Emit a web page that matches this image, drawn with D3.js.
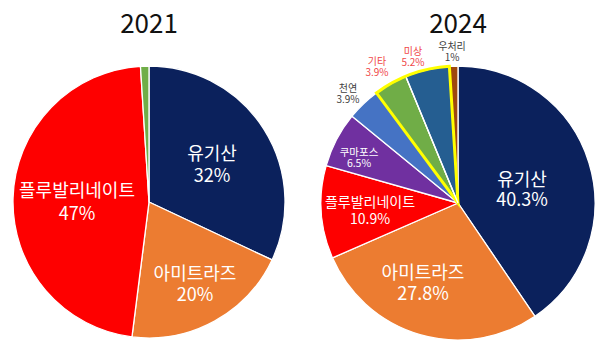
<!DOCTYPE html>
<html>
<head>
<meta charset="utf-8">
<script src="https://cdn.jsdelivr.net/npm/d3@7"></script>
<style>
  html, body { margin: 0; padding: 0; background: #fff; }
  svg { display: block; }
  text { font-family: "Noto Sans CJK KR", "Noto Sans", sans-serif; }
</style>
</head>
<body>
<svg id="chart" width="601" height="349"></svg>
<script>
// Pesticide share by category, 2021 vs 2024
const years = ["2021", "2024"];

const categories2021 = ["유기산", "아미트라즈", "플루발리네이트", "기타"];
const values2021 = [32, 20, 47, 1];
const labelled2021 = [true, true, true, false];

const categories2024 = ["유기산", "아미트라즈", "플루발리네이트", "쿠마포스", "천연", "기타", "미상", "우처리"];
const values2024 = [40.3, 27.8, 10.9, 6.5, 3.9, 3.9, 5.2, 1];
const labelled2024 = [true, true, true, true, true, true, true, true];

// categories outlined in yellow (2024)
const highlighted2024 = ["기타", "미상"];

const colors = {
  "유기산": "#0b215c",
  "아미트라즈": "#ec7c31",
  "플루발리네이트": "#fe0000",
  "쿠마포스": "#7030a0",
  "천연": "#4573c4",
  "기타": "#70ad47",
  "미상": "#255e91",
  "우처리": "#9e480e"
};

const svg = d3.select("#chart");

// label placement relative to each pie's centre: [dx, dy(first baseline), line gap, font size, fill]
const labelLayout2021 = {
  "유기산": [63, -42, 22, 18, "#fff"],
  "아미트라즈": [46, 78, 21, 18, "#fff"],
  "플루발리네이트": [-72, -5, 23, 18, "#fff"]
};
const labelLayout2024 = {
  "유기산": [64, -17, 20, 18, "#fff"],
  "아미트라즈": [-35, 76, 21, 18, "#fff"],
  "플루발리네이트": [-88, 4, 17, 14, "#fff"],
  "쿠마포스": [-99, -47, 11, 10.5, "#fff"],
  "천연": [-110, -111, 11, 10, "#404040"],
  "기타": [-81, -138, 11, 10, "#f04848"],
  "미상": [-45, -148, 11, 10, "#f04848"],
  "우처리": [-6, -153, 11, 10, "#404040"]
};

function drawPie(cfg) {
  const g = svg.append("g").attr("transform", `translate(${cfg.cx},${cfg.cy})`);
  const pie = d3.pie().sort(null).value(d => d.value);
  const arcs = pie(cfg.categories.map((c, i) => ({ name: c, value: cfg.values[i], show: cfg.labelled[i] })));
  const arc = d3.arc().innerRadius(0).outerRadius(cfg.r);

  g.selectAll("path.slice")
    .data(arcs)
    .join("path")
    .attr("class", "slice")
    .attr("d", arc)
    .attr("fill", d => colors[d.data.name])
    .attr("stroke", "#fff")
    .attr("stroke-width", 1.3)
    .attr("stroke-linejoin", "round");

  // yellow outline around the highlighted wedge group
  if (cfg.highlight && cfg.highlight.length) {
    const hs = arcs.filter(d => cfg.highlight.includes(d.data.name));
    const start = d3.min(hs, d => d.startAngle);
    const end = d3.max(hs, d => d.endAngle);
    g.append("path")
      .attr("d", d3.arc()({ innerRadius: 0, outerRadius: cfg.r, startAngle: start, endAngle: end }))
      .attr("fill", "none")
      .attr("stroke", "#ffff00")
      .attr("stroke-width", 3)
      .attr("stroke-linejoin", "miter");
    // white separator between the highlighted slices
    hs.slice(1).forEach(d => {
      const a = d.startAngle;
      g.append("line")
        .attr("x1", 0).attr("y1", 0)
        .attr("x2", Math.sin(a) * (cfg.r - 1.5))
        .attr("y2", -Math.cos(a) * (cfg.r - 1.5))
        .attr("stroke", "#fff")
        .attr("stroke-width", 1.3);
    });
  }

  const labels = g.selectAll("g.lbl")
    .data(arcs.filter(d => d.data.show))
    .join("g")
    .attr("class", "lbl");

  labels.each(function (d) {
    const L = cfg.layout[d.data.name];
    const t = d3.select(this).append("text")
      .attr("text-anchor", "middle")
      .attr("fill", L[4])
      .attr("font-size", L[3]);
    t.append("tspan").attr("x", L[0]).attr("y", L[1]).text(d.data.name);
    t.append("tspan").attr("x", L[0]).attr("y", L[1] + L[2]).text(`${d.data.value}%`);
  });

  svg.append("text")
    .attr("x", cfg.cx)
    .attr("y", 33)
    .attr("text-anchor", "middle")
    .attr("font-size", 26)
    .attr("fill", "#111")
    .text(cfg.title);
}

drawPie({
  title: years[0], cx: 149, cy: 202, r: 136,
  categories: categories2021, values: values2021, labelled: labelled2021,
  layout: labelLayout2021
});

drawPie({
  title: years[1], cx: 458, cy: 203, r: 137,
  categories: categories2024, values: values2024, labelled: labelled2024,
  layout: labelLayout2024, highlight: highlighted2024
});
</script>
</body>
</html>
